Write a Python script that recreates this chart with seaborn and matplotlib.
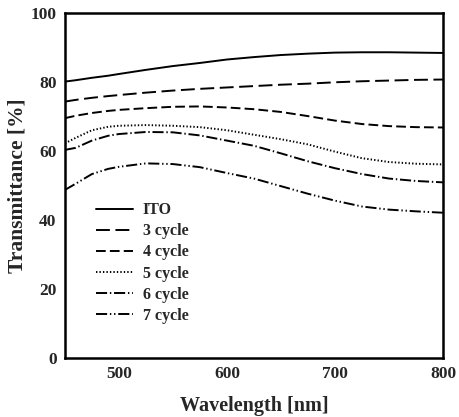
import matplotlib.pyplot as plt
import matplotlib.ticker as mticker
import pandas as pd
import seaborn as sns

# wavelength grid [nm] and transmittance [%]
wavelength = [450, 460, 475, 490, 500, 525, 550, 575, 600, 625, 650, 675, 700, 725, 750, 775, 800]
ito = [80.1, 80.5, 81.2, 81.8, 82.3, 83.5, 84.6, 85.5, 86.5, 87.2, 87.8, 88.2, 88.5, 88.6, 88.6, 88.5, 88.4]
cycle3 = [74.3, 74.8, 75.4, 75.9, 76.2, 76.9, 77.5, 78.0, 78.4, 78.8, 79.2, 79.5, 79.9, 80.2, 80.4, 80.6, 80.7]
cycle4 = [69.5, 70.2, 71.0, 71.6, 71.9, 72.4, 72.8, 72.9, 72.6, 72.1, 71.3, 70.1, 68.8, 67.8, 67.2, 66.9, 66.8]
cycle5 = [62.2, 63.8, 66.0, 67.0, 67.3, 67.5, 67.3, 66.9, 66.0, 64.7, 63.4, 61.9, 59.8, 57.9, 56.8, 56.3, 56.1]
cycle6 = [60.3, 60.9, 63.0, 64.4, 64.9, 65.5, 65.4, 64.5, 63.0, 61.5, 59.3, 57.0, 55.0, 53.3, 52.0, 51.3, 50.9]
cycle7 = [48.7, 50.5, 53.3, 54.8, 55.4, 56.4, 56.2, 55.3, 53.6, 52.0, 49.8, 47.6, 45.6, 43.9, 43.0, 42.5, 42.1]

labels = ["ITO", "3 cycle", "4 cycle", "5 cycle", "6 cycle", "7 cycle"]
series = [ito, cycle3, cycle4, cycle5, cycle6, cycle7]

styles = {
    "ITO": "-",
    "3 cycle": (0, (10, 4)),
    "4 cycle": (0, (7, 3)),
    "5 cycle": (0, (1, 1.5)),
    "6 cycle": (0, (8, 2, 1, 2)),
    "7 cycle": (0, (8, 2, 1, 2, 1, 2)),
}

sns.set_style("white")
plt.rcParams.update(
    {
        "font.family": ["Liberation Serif", "DejaVu Serif"],
        "font.weight": "bold",
        "axes.labelweight": "bold",
        "lines.scale_dashes": False,
        "xtick.direction": "in",
        "ytick.direction": "in",
    }
)

fig = plt.figure(figsize=(4.6, 4.17), dpi=100)
ax = fig.add_axes([0.141, 0.1415, 0.822, 0.8275])

for name, values in zip(labels, series):
    df = pd.DataFrame({"wavelength": wavelength, "T": values})
    sns.lineplot(
        data=df, x="wavelength", y="T", ax=ax, color="black",
        linewidth=1.4, linestyle=styles[name], label=name,
    )

ax.set_xlim(450, 800)
ax.set_ylim(0, 100)
ax.xaxis.set_major_locator(mticker.FixedLocator([500, 600, 700, 800]))
ax.xaxis.set_minor_locator(mticker.MultipleLocator(20))
ax.yaxis.set_major_locator(mticker.MultipleLocator(20))
ax.yaxis.set_minor_locator(mticker.MultipleLocator(4))
ax.tick_params(which="major", length=5, width=1.5, labelsize=12.5, pad=6, top=False, right=False)
ax.tick_params(which="minor", length=3, width=1.2, top=False, right=False)
for lab in ax.get_xticklabels() + ax.get_yticklabels():
    lab.set_fontweight("bold")

for spine in ax.spines.values():
    spine.set_linewidth(1.8)
    spine.set_color("black")

ax.set_xlabel("Wavelength [nm]", fontsize=14.5, fontweight="bold", labelpad=10)
ax.set_ylabel("Transmittance [%]", fontsize=15.5, fontweight="bold")
ax.yaxis.set_label_coords(-0.098, 0.5)

ax.legend(
    loc="upper left", bbox_to_anchor=(0.065, 0.47), frameon=False,
    fontsize=11.5, handlelength=2.3, handletextpad=0.65, labelspacing=0.32,
    borderaxespad=0,
)

fig.savefig("out.png", dpi=100)
